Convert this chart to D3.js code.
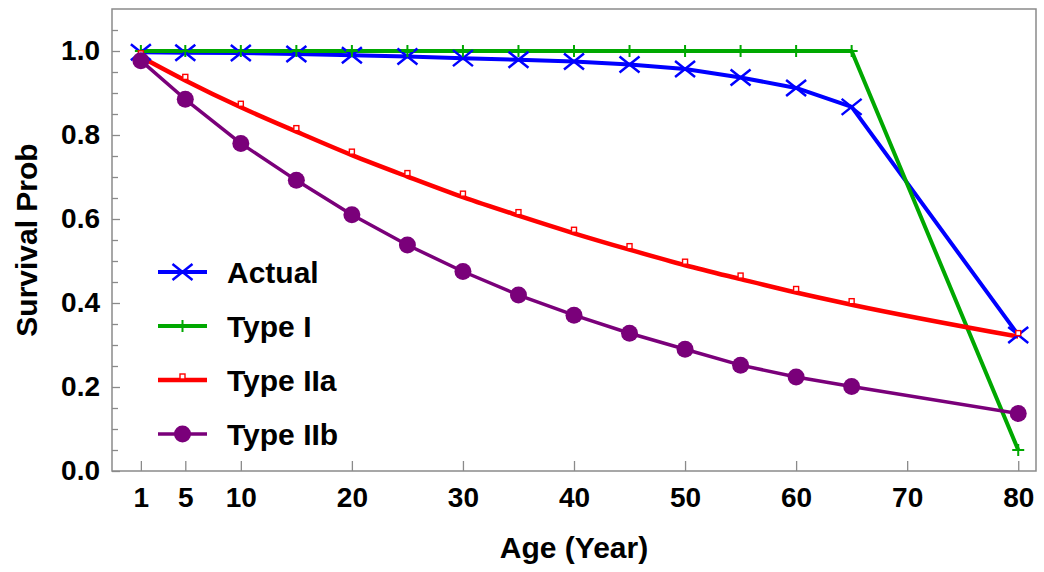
<!DOCTYPE html>
<html>
<head>
<meta charset="utf-8">
<script src="https://cdn.jsdelivr.net/npm/d3@7"></script>
<style>
  body { margin: 0; background: #fff; }
  text { font-family: "Liberation Sans", Arial, sans-serif; font-weight: bold; fill: #000; }
</style>
</head>
<body>
<div id="chart"></div>
<script>
// data
var ages = [1, 5, 10, 15, 20, 25, 30, 35, 40, 45, 50, 55, 60, 65, 80];
var actual  = [0.997, 0.996, 0.995, 0.993, 0.990, 0.987, 0.983, 0.979, 0.975, 0.968, 0.957, 0.937, 0.912, 0.867, 0.324];
var typeI   = [1.0, 1.0, 1.0, 1.0, 1.0, 1.0, 1.0, 1.0, 1.0, 1.0, 1.0, 1.0, 1.0, 1.0, 0.05];
var typeIIa = [0.986, 0.930, 0.866, 0.808, 0.752, 0.701, 0.652, 0.608, 0.566, 0.527, 0.490, 0.457, 0.425, 0.396, 0.320];
var typeIIb = [0.977, 0.885, 0.780, 0.692, 0.610, 0.538, 0.475, 0.419, 0.371, 0.328, 0.290, 0.252, 0.224, 0.201, 0.137];
var seriesNames = ["Actual", "Type I", "Type IIa", "Type IIb"];
var xTicks = [1, 5, 10, 20, 30, 40, 50, 60, 70, 80];
var yTicks = [0, 0.2, 0.4, 0.6, 0.8, 1.0];
var yMinor = [0.05, 0.1, 0.15, 0.25, 0.3, 0.35, 0.45, 0.5, 0.55, 0.65, 0.7, 0.75, 0.85, 0.9, 0.95, 1.05];

var W = 1044, H = 572;
var svg = d3.select("#chart").append("svg").attr("width", W).attr("height", H);

var x = d3.scaleLinear().domain([-1.6, 81.6]).range([112, 1036]);
var y = d3.scaleLinear().domain([0, 1.1]).range([471, 9]);

var series = [
  {name: seriesNames[0], vals: actual,  color: "#0000ff", width: 4,   marker: "x",      curve: d3.curveLinear},
  {name: seriesNames[1], vals: typeI,   color: "#00a800", width: 4,   marker: "plus",   curve: d3.curveLinear},
  {name: seriesNames[2], vals: typeIIa, color: "#ff0000", width: 4.5, marker: "square", curve: d3.curveMonotoneX},
  {name: seriesNames[3], vals: typeIIb, color: "#7a007a", width: 3.5, marker: "circle", curve: d3.curveLinear}
];

// frame
svg.append("rect")
  .attr("x", x.range()[0]).attr("y", y.range()[1])
  .attr("width", x.range()[1] - x.range()[0])
  .attr("height", y.range()[0] - y.range()[1])
  .attr("fill", "none").attr("stroke", "#8a8a8a").attr("stroke-width", 1.5);

// axes
var xAxis = svg.append("g")
  .attr("transform", "translate(0," + y.range()[0] + ")")
  .call(d3.axisBottom(x).tickValues(xTicks).tickSizeInner(-10).tickSizeOuter(0).tickPadding(16));
xAxis.select(".domain").remove();
xAxis.selectAll("line").attr("stroke", "#8a8a8a").attr("stroke-width", 1.3);
xAxis.selectAll("text").attr("font-size", 28);

var yAxisMinor = svg.append("g")
  .attr("transform", "translate(" + x.range()[0] + ",0)")
  .call(d3.axisLeft(y).tickValues(yMinor).tickSizeInner(-6).tickSizeOuter(0).tickFormat(""));
yAxisMinor.select(".domain").remove();
yAxisMinor.selectAll("line").attr("stroke", "#8a8a8a").attr("stroke-width", 1.3);

var yAxis = svg.append("g")
  .attr("transform", "translate(" + x.range()[0] + ",0)")
  .call(d3.axisLeft(y).tickValues(yTicks).tickSizeInner(-8).tickSizeOuter(0).tickPadding(12).tickFormat(d3.format(".1f")));
yAxis.select(".domain").remove();
yAxis.selectAll("line").attr("stroke", "#8a8a8a").attr("stroke-width", 1.3);
yAxis.selectAll("text").attr("font-size", 28);

d3.selectAll("g.tick text").attr("fill", "#000");
svg.selectAll("g").attr("font-family", null);

// axis titles
svg.append("text")
  .attr("x", 574).attr("y", 558)
  .attr("text-anchor", "middle").attr("font-size", 30)
  .text("Age (Year)");

svg.append("text")
  .attr("transform", "translate(37,240) rotate(-90)")
  .attr("text-anchor", "middle").attr("font-size", 30)
  .text("Survival Prob");

// markers
function drawMarker(g, type, color) {
  if (type === "x") {
    g.append("path").attr("d", "M-10,-8L10,8M-10,8L10,-8")
      .attr("stroke", color).attr("stroke-width", 2.5).attr("fill", "none");
  } else if (type === "plus") {
    g.append("path").attr("d", "M-6,0L6,0M0,-6L0,6")
      .attr("stroke", color).attr("stroke-width", 2).attr("fill", "none");
  } else if (type === "square") {
    g.append("rect").attr("x", -2.5).attr("y", -6).attr("width", 5).attr("height", 5)
      .attr("stroke", color).attr("stroke-width", 1.4).attr("fill", "#fff");
  } else if (type === "circle") {
    g.append("circle").attr("r", 8.5).attr("fill", color);
  }
}

var plot = svg.append("g");

series.forEach(function(s) {
  var line = d3.line()
    .curve(s.curve)
    .x(function(d, i) { return x(ages[i]); })
    .y(function(d) { return y(d); });
  plot.append("path")
    .datum(s.vals)
    .attr("d", line)
    .attr("fill", "none")
    .attr("stroke", s.color)
    .attr("stroke-width", s.width)
    .attr("stroke-linejoin", "round");
});

series.forEach(function(s) {
  s.vals.forEach(function(v, i) {
    var g = plot.append("g").attr("transform", "translate(" + x(ages[i]) + "," + y(v) + ")");
    drawMarker(g, s.marker, s.color);
  });
});

// legend
var legend = svg.append("g");
series.forEach(function(s, i) {
  var ly = 272 + i * 54;
  legend.append("line")
    .attr("x1", 158).attr("x2", 207).attr("y1", ly).attr("y2", ly)
    .attr("stroke", s.color).attr("stroke-width", s.width);
  var g = legend.append("g").attr("transform", "translate(182.5," + ly + ")");
  drawMarker(g, s.marker, s.color);
  legend.append("text")
    .attr("x", 227).attr("y", ly).attr("dy", "0.36em")
    .attr("font-size", 30)
    .text(s.name);
});
</script>
</body>
</html>
